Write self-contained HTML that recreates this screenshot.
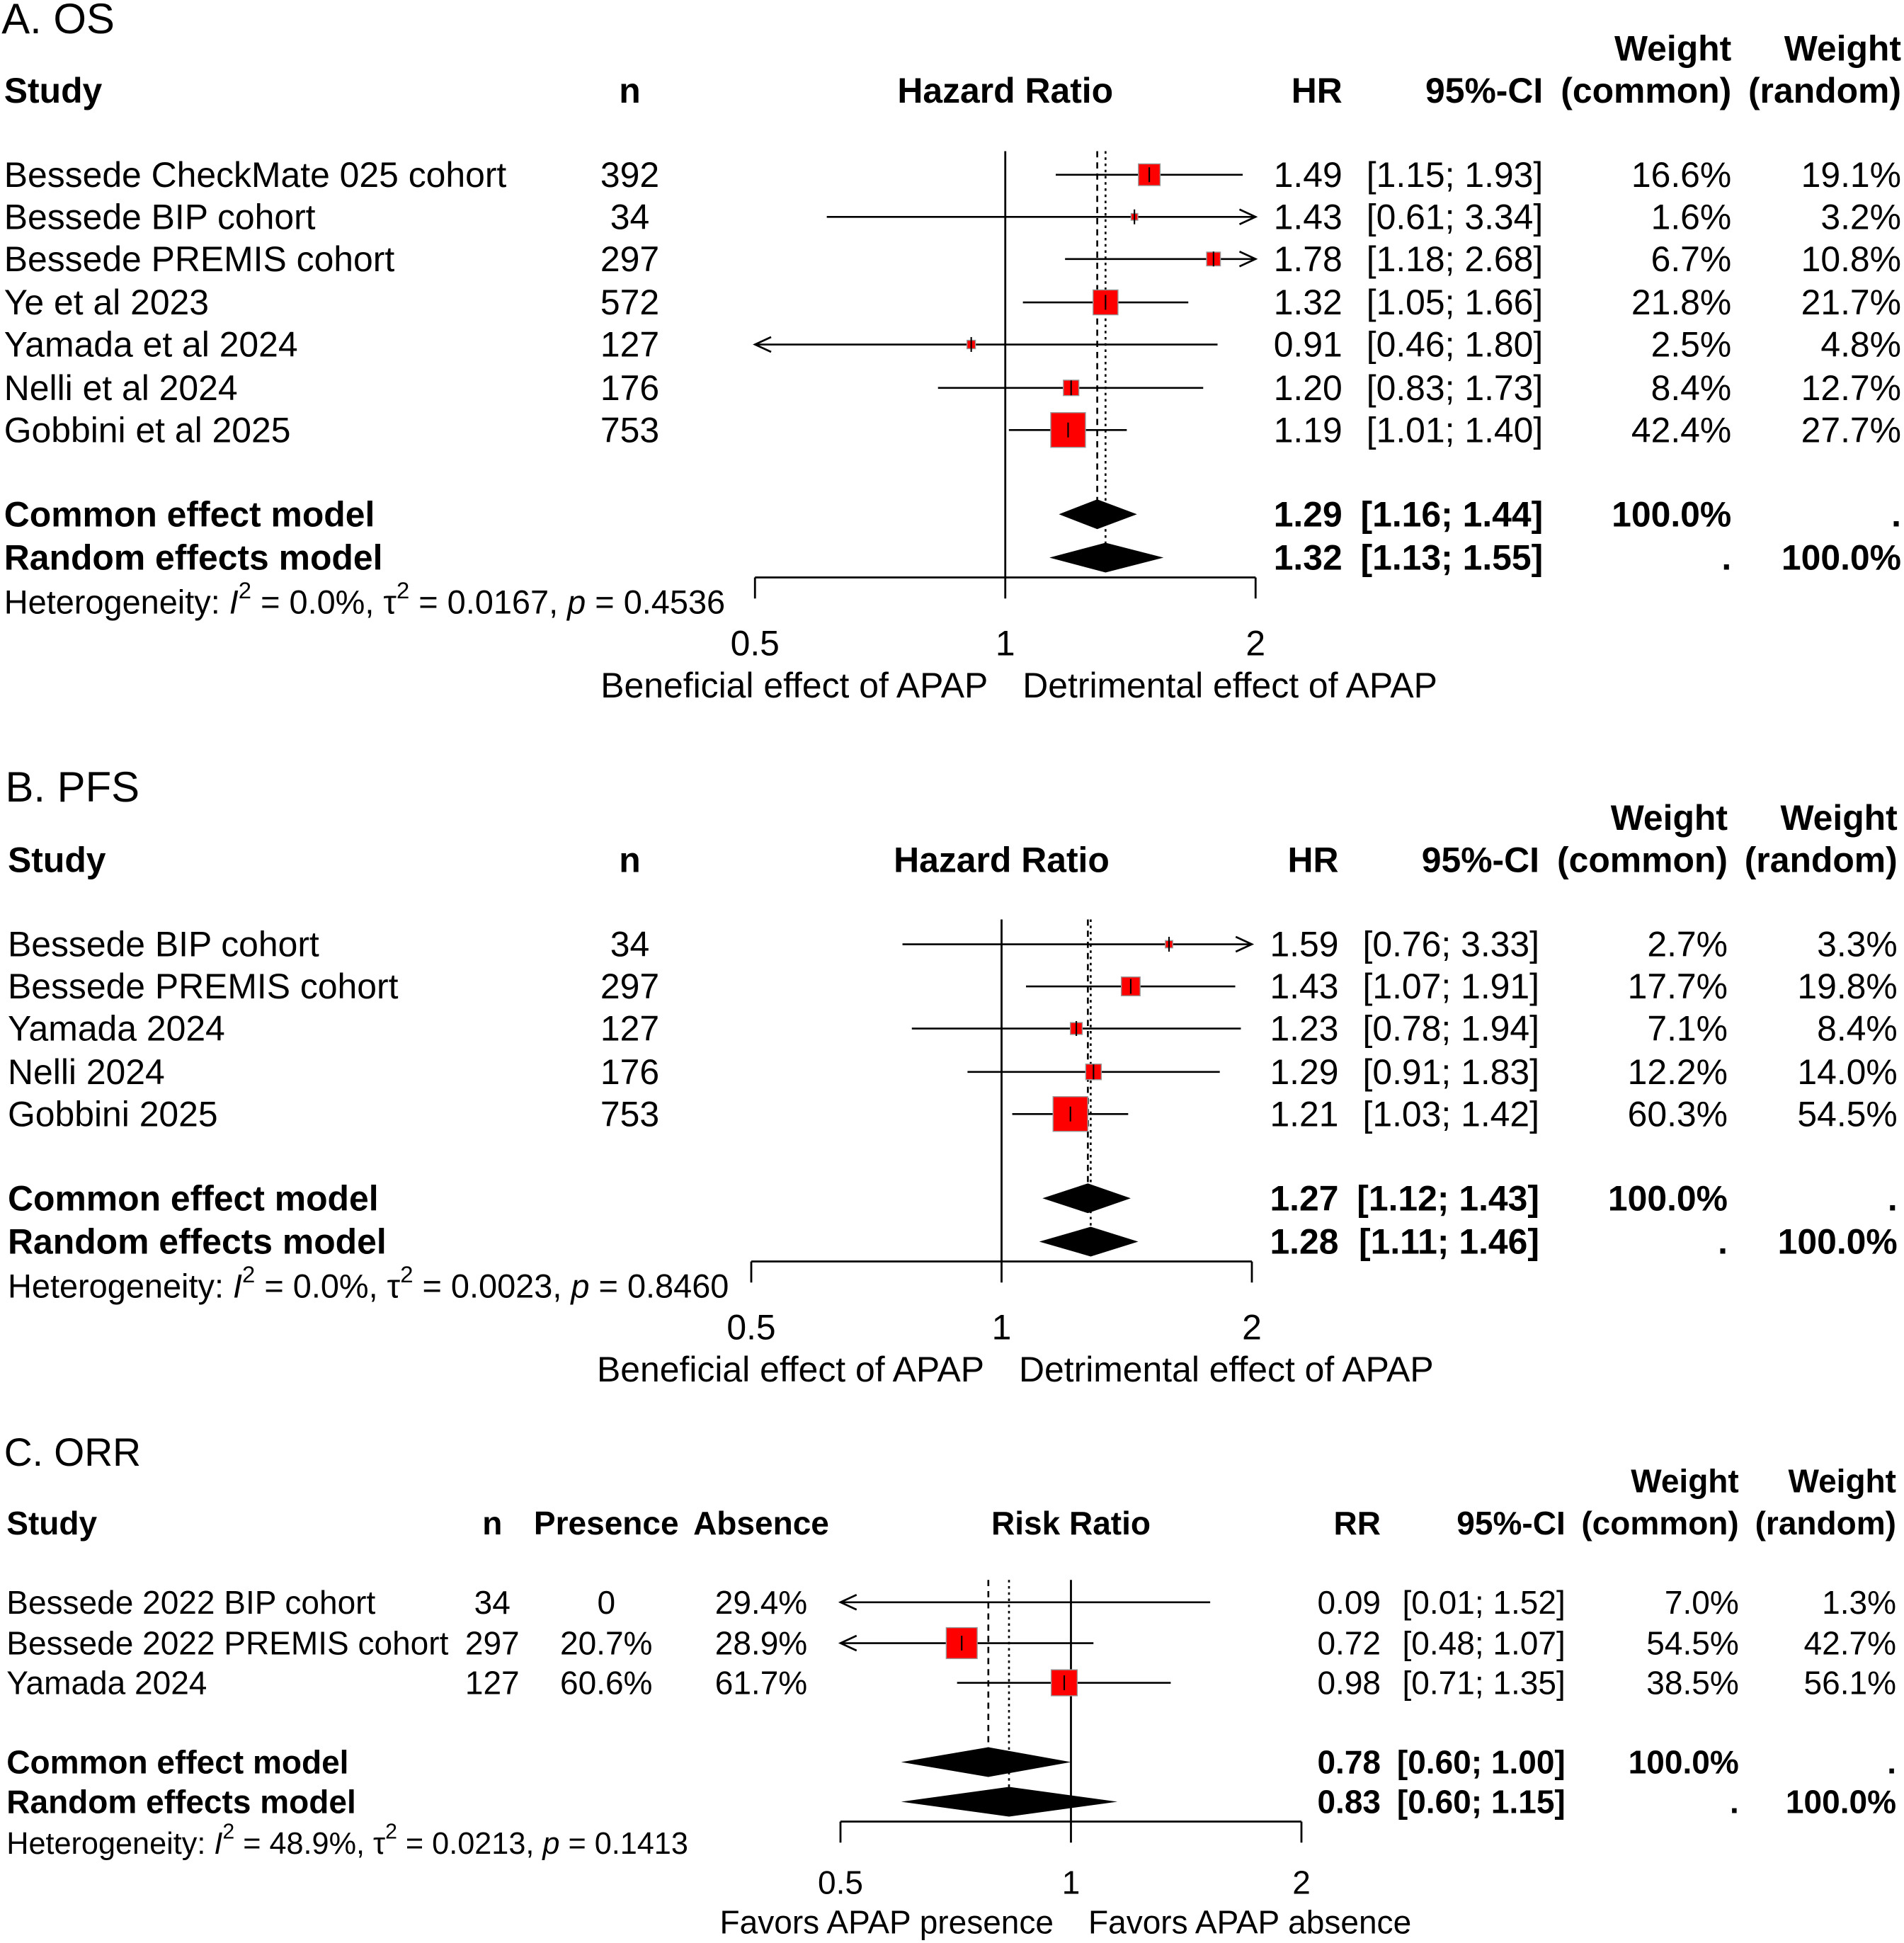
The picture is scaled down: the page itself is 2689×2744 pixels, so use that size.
<!DOCTYPE html>
<html><head><meta charset="utf-8"><style>
html,body{margin:0;padding:0;background:#fff}
svg{display:block}
text{font-family:"Liberation Sans",Arial,sans-serif;fill:#000}
</style></head><body>
<svg id="chart" xmlns="http://www.w3.org/2000/svg" width="2689" height="2744" viewBox="0 0 1536 1568"></svg>
<script>
// ---- Panel A: OS ----
const osStudies = ["Bessede CheckMate 025 cohort","Bessede BIP cohort","Bessede PREMIS cohort","Ye et al 2023","Yamada et al 2024","Nelli et al 2024","Gobbini et al 2025"];
const osN = [392,34,297,572,127,176,753];
const osHR = [1.49,1.43,1.78,1.32,0.91,1.20,1.19];
const osLo = [1.15,0.61,1.18,1.05,0.46,0.83,1.01];
const osHi = [1.93,3.34,2.68,1.66,1.80,1.73,1.40];
const osWc = [16.6,1.6,6.7,21.8,2.5,8.4,42.4];
const osWr = [19.1,3.2,10.8,21.7,4.8,12.7,27.7];
const osCommon = [1.29,1.16,1.44];
const osRandom = [1.32,1.13,1.55];
const osHet = ["0.0%","0.0167","0.4536"];
// ---- Panel B: PFS ----
const pfsStudies = ["Bessede BIP cohort","Bessede PREMIS cohort","Yamada 2024","Nelli 2024","Gobbini 2025"];
const pfsN = [34,297,127,176,753];
const pfsHR = [1.59,1.43,1.23,1.29,1.21];
const pfsLo = [0.76,1.07,0.78,0.91,1.03];
const pfsHi = [3.33,1.91,1.94,1.83,1.42];
const pfsWc = [2.7,17.7,7.1,12.2,60.3];
const pfsWr = [3.3,19.8,8.4,14.0,54.5];
const pfsCommon = [1.27,1.12,1.43];
const pfsRandom = [1.28,1.11,1.46];
const pfsHet = ["0.0%","0.0023","0.8460"];
// ---- Panel C: ORR ----
const orrStudies = ["Bessede 2022 BIP cohort","Bessede 2022 PREMIS cohort","Yamada 2024"];
const orrN = [34,297,127];
const orrPres = ["0","20.7%","60.6%"];
const orrAbs = ["29.4%","28.9%","61.7%"];
const orrRR = [0.09,0.72,0.98];
const orrLo = [0.01,0.48,0.71];
const orrHi = [1.52,1.07,1.35];
const orrWc = [7.0,54.5,38.5];
const orrWr = [1.3,42.7,56.1];
const orrCommon = [0.78,0.60,1.00];
const orrRandom = [0.83,0.60,1.15];
const orrHet = ["48.9%","0.0213","0.1413"];
const tickVals = [0.5,1,2];

const svg = document.getElementById('chart');
const NS = "http://www.w3.org/2000/svg";
function el(tag, attrs, parent){const e=document.createElementNS(NS,tag);for(const k in attrs)e.setAttribute(k,attrs[k]);(parent||svg).appendChild(e);return e;}
function txt(s,x,y,opts,parent){opts=opts||{};const t=el('text',{x:x,y:y,'font-size':opts.size||27,'text-anchor':opts.anchor||'start','font-weight':opts.bold?'bold':'normal','dominant-baseline':'central'},parent);t.textContent=s;return t;}
const f2 = v=>v.toFixed(2);
const ci = (l,h)=>"["+f2(l)+"; "+f2(h)+"]";

function panel(cfg){
  const g = el('g',{});
  
  
  const fs=cfg.fs;
  const X = v=>cfg.x1+cfg.unit*Math.log2(v);
  const xmin=X(0.5), xmax=X(2);
  let t=txt(cfg.title,cfg.lx-2,cfg.titleY,{size:fs*1.2},g);
  
  txt("Study",cfg.lx,cfg.hdrY,{bold:true,size:fs},g);
  txt("n",cfg.nx,cfg.hdrY,{bold:true,anchor:'middle',size:fs},g);
  if(cfg.pres){txt("Presence",cfg.px,cfg.hdrY,{bold:true,anchor:'middle',size:fs},g);txt("Absence",cfg.ax,cfg.hdrY,{bold:true,anchor:'middle',size:fs},g);}
  txt(cfg.measure,cfg.x1,cfg.hdrY,{bold:true,anchor:'middle',size:fs},g);
  txt(cfg.est,cfg.ex,cfg.hdrY,{bold:true,anchor:'end',size:fs},g);
  txt("95%-CI",cfg.cx,cfg.hdrY,{bold:true,anchor:'end',size:fs},g);
  txt("Weight",cfg.w1x,cfg.hdrY-34,{bold:true,anchor:'end',size:fs},g);
  txt("(common)",cfg.w1x,cfg.hdrY,{bold:true,anchor:'end',size:fs},g);
  txt("Weight",cfg.w2x,cfg.hdrY-34,{bold:true,anchor:'end',size:fs},g);
  txt("(random)",cfg.w2x,cfg.hdrY,{bold:true,anchor:'end',size:fs},g);
  const maxW=Math.max(...cfg.wc);
  const axisY=cfg.axisY;
  el('line',{x1:X(1),x2:X(1),y1:cfg.refTop,y2:axisY,stroke:'#000','stroke-width':1.6},g);
  el('line',{x1:X(cfg.common[0]),x2:X(cfg.common[0]),y1:cfg.refTop,y2:cfg.comY,stroke:'#000','stroke-width':1.5,'stroke-dasharray':'5,4'},g);
  el('line',{x1:X(cfg.random[0]),x2:X(cfg.random[0]),y1:cfg.refTop,y2:cfg.ranY,stroke:'#000','stroke-width':1.5,'stroke-dasharray':'2,3'},g);
  cfg.studies.forEach((s,i)=>{
    const y=cfg.rowY[i];
    const r=el('g',{},g);
    
    
    txt(s,cfg.lx,y,{size:fs},r);
    txt(String(cfg.n[i]),cfg.nx,y,{anchor:'middle',size:fs},r);
    if(cfg.pres){txt(cfg.pres[i],cfg.px,y,{anchor:'middle',size:fs},r);txt(cfg.abs[i],cfg.ax,y,{anchor:'middle',size:fs},r);}
    const lo=Math.max(X(cfg.lo[i]),xmin), hi=Math.min(X(cfg.hi[i]),xmax);
    el('line',{x1:lo,x2:hi,y1:y,y2:y,stroke:'#000','stroke-width':1.5},r);
    if(X(cfg.lo[i])<xmin) el('path',{d:`M${xmin+13},${y-6} L${xmin},${y} L${xmin+13},${y+6}`,fill:'none',stroke:'#000','stroke-width':1.5},r);
    if(X(cfg.hi[i])>xmax) el('path',{d:`M${xmax-13},${y-6} L${xmax},${y} L${xmax-13},${y+6}`,fill:'none',stroke:'#000','stroke-width':1.5},r);
    const cx=X(cfg.est_[i]);
    if(cx>=xmin && cx<=xmax){
      const sz=Math.max(cfg.maxSq*Math.sqrt(cfg.wc[i]/maxW),5);
      const sq=el('rect',{x:cx-sz/2,y:y-sz/2,width:sz,height:sz,fill:'#ff0000',stroke:'#999','stroke-width':0.8},r);
      
      
      el('line',{x1:cx,x2:cx,y1:y-6,y2:y+6,stroke:'#000','stroke-width':1.2},r);
    }
    txt(f2(cfg.est_[i]),cfg.ex,y,{anchor:'end',size:fs},r);
    txt(ci(cfg.lo[i],cfg.hi[i]),cfg.cx,y,{anchor:'end',size:fs},r);
    txt(cfg.wc[i].toFixed(1)+"%",cfg.w1x,y,{anchor:'end',size:fs},r);
    txt(cfg.wr[i].toFixed(1)+"%",cfg.w2x,y,{anchor:'end',size:fs},r);
  });
  [[cfg.common,cfg.comY,"Common effect model","100.0%","."],[cfg.random,cfg.ranY,"Random effects model",".","100.0%"]].forEach(([m,y,lab,a,b])=>{
    txt(lab,cfg.lx,y,{bold:true,size:fs},g);
    const d=el('path',{d:`M${X(m[1])},${y} L${X(m[0])},${y-12} L${X(m[2])},${y} L${X(m[0])},${y+12} Z`,fill:'#000'},g);
    
    
    txt(f2(m[0]),cfg.ex,y,{bold:true,anchor:'end',size:fs},g);
    txt(ci(m[1],m[2]),cfg.cx,y,{bold:true,anchor:'end',size:fs},g);
    txt(a,cfg.w1x,y,{bold:true,anchor:'end',size:fs},g);
    txt(b,cfg.w2x,y,{bold:true,anchor:'end',size:fs},g);
  });
  const h=el('text',{x:cfg.lx,y:cfg.hetY,'font-size':cfg.hetSize,'dominant-baseline':'central'},g);
  
  
  h.innerHTML=`Heterogeneity: <tspan font-style="italic">I</tspan><tspan dy="-10" font-size="${cfg.hetSize*0.7}">2</tspan><tspan dy="10"> = ${cfg.het[0]}, τ</tspan><tspan dy="-10" font-size="${cfg.hetSize*0.7}">2</tspan><tspan dy="10"> = ${cfg.het[1]}, </tspan><tspan font-style="italic">p</tspan> = ${cfg.het[2]}`;
  const ax=el('g',{},g);
  
  
  el('line',{x1:xmin,x2:xmax,y1:axisY,y2:axisY,stroke:'#000','stroke-width':1.6},ax);
  tickVals.forEach(v=>{
    el('line',{x1:X(v),x2:X(v),y1:axisY,y2:axisY+17,stroke:'#000','stroke-width':1.6},ax);
    txt(String(v),X(v),cfg.tickY,{anchor:'middle',size:fs},ax);
  });
  txt(cfg.leftLab,X(1)-14,cfg.labY,{anchor:'end',size:fs},ax);
  txt(cfg.rightLab,X(1)+14,cfg.labY,{anchor:'start',size:fs},ax);
}

panel({name:'panel-a-os',title:'A. OS',titleY:15,hdrY:73,lx:3,nx:508,measure:'Hazard Ratio',est:'HR',ex:1083,cx:1245,w1x:1397,w2x:1534,fs:28.5,
 x1:811,unit:202,studies:osStudies,n:osN,est_:osHR,lo:osLo,hi:osHi,wc:osWc,wr:osWr,common:osCommon,random:osRandom,het:osHet,
 rowY:[141,175,209,244,278,313,347],comY:415,ranY:450,refTop:122,axisY:466,tickY:519,labY:553,hetY:486,hetSize:26.8,maxSq:28,
 leftLab:'Beneficial effect of APAP',rightLab:'Detrimental effect of APAP'});
panel({name:'panel-b-pfs',title:'B. PFS',titleY:635,hdrY:694,lx:6,nx:508,measure:'Hazard Ratio',est:'HR',ex:1080,cx:1242,w1x:1394,w2x:1531,fs:28.5,
 x1:808,unit:202,studies:pfsStudies,n:pfsN,est_:pfsHR,lo:pfsLo,hi:pfsHi,wc:pfsWc,wr:pfsWr,common:pfsCommon,random:pfsRandom,het:pfsHet,
 rowY:[762,796,830,865,899],comY:967,ranY:1002,refTop:742,axisY:1018,tickY:1071,labY:1105,hetY:1038,hetSize:26.8,maxSq:28,
 leftLab:'Beneficial effect of APAP',rightLab:'Detrimental effect of APAP'});
panel({name:'panel-c-orr',title:'C. ORR',titleY:1172,hdrY:1229,lx:5,nx:397,px:489,ax:614,pres:orrPres,abs:orrAbs,measure:'Risk Ratio',est:'RR',ex:1114,cx:1263,w1x:1403,w2x:1530,fs:26.3,
 x1:864,unit:186,studies:orrStudies,n:orrN,est_:orrRR,lo:orrLo,hi:orrHi,wc:orrWc,wr:orrWr,common:orrCommon,random:orrRandom,het:orrHet,
 rowY:[1293,1326,1358],comY:1422,ranY:1454,refTop:1275,axisY:1470,tickY:1519,labY:1551,hetY:1488,hetSize:24.7,maxSq:25,
 leftLab:'Favors APAP presence',rightLab:'Favors APAP absence'});
</script>
</body></html>
